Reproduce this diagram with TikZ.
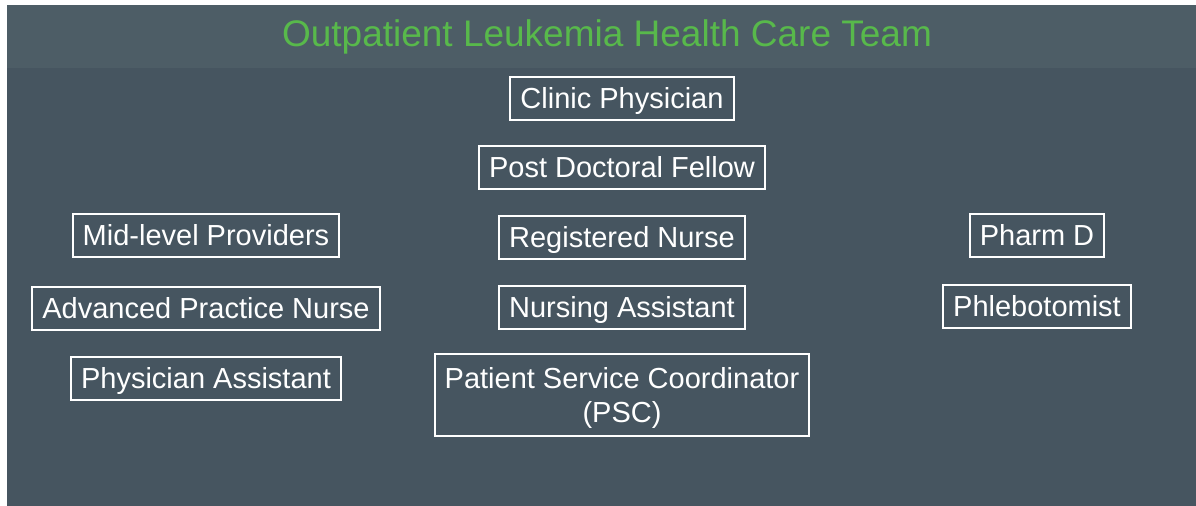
\documentclass[tikz,border=0pt]{standalone}
\usepackage{fontspec}
\setmainfont{Liberation Sans}
\usepackage{xcolor}
\usetikzlibrary{positioning}

\definecolor{slidebg}{RGB}{70,85,96}
\definecolor{bandbg}{RGB}{77,93,102}
\definecolor{headgreen}{RGB}{88,185,75}

\begin{document}
\begin{tikzpicture}[
    x=0.5pt, y=-0.5pt,
    node distance=12.5pt,
    role/.style={rectangle, draw=white, line width=1pt, text=white,
                 font=\fontsize{14.5}{17}\selectfont, minimum height=21.5pt,
                 text height=10.4pt, text depth=0pt,
                 inner xsep=5pt, inner ysep=2pt, align=center},
    heading/.style={text=headgreen, font=\fontsize{18.5}{22}\selectfont, anchor=base}
]

% slide background and title band
\fill[white] (0,0) rectangle (1196,506);
\fill[slidebg] (7,5) rectangle (1196,506);
\fill[bandbg] (7,5) rectangle (1196,68);
\node[heading] (title) at (607,47) {Outpatient Leukemia Health Care Team};

% middle column
\node[role] (clinic) at (622,98.5) {Clinic Physician};
\node[role, below=12pt of clinic] (postdoc) {Post Doctoral Fellow};
\node[role, below=of postdoc] (rn)     {Registered Nurse};
\node[role, below=of rn]      (na)     {Nursing Assistant};
\node[role, below=11.5pt of na, minimum height=41pt, text height=27.4pt, text depth=-1pt] (psc) {Patient Service Coordinator\\(PSC)};

% left column
\node[role] (midlevel) at (206,235.5) {Mid-level Providers};
\node[role, below=14pt of midlevel] (apn) {Advanced Practice Nurse};
\node[role, below=12.5pt of apn] (pa) {Physician Assistant};

% right column
\node[role] (pharm) at (1037,235.5) {Pharm D};
\node[role, below=13pt of pharm] (phleb) {Phlebotomist};

\end{tikzpicture}
\end{document}
